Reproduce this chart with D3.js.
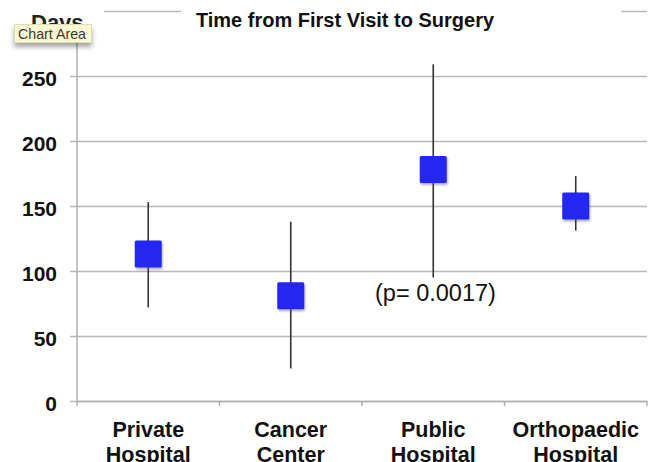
<!DOCTYPE html>
<html>
<head>
<meta charset="utf-8">
<script src="https://cdn.jsdelivr.net/npm/d3@7"></script>
<style>
  html, body { margin: 0; padding: 0; background: #fff; }
  svg { display: block; }
</style>
</head>
<body>
<svg id="chart" width="651" height="462"></svg>
<script>
// Time from first visit to surgery (days), by hospital type
const categories = ["Private Hospital", "Cancer Center", "Public Hospital", "Orthopaedic Hospital"];
const medianDays = [113, 81, 178, 150];
const lowDays = [72, 25, 95, 131];
const highDays = [153, 138, 259, 173];
const yTicks = [0, 50, 100, 150, 200, 250, 300];
const yTickLabels = ["0", "50", "100", "150", "200", "250"];
const chartTitle = "Time from First Visit to Surgery";
const axisTitle = "Days";
const pValueNote = "(p= 0.0017)";

const W = 651, H = 462;
const plot = { left: 77, right: 647, top: 11, bottom: 401 };
const FONT = "'Liberation Sans', Arial, Helvetica, sans-serif";

const svg = d3.select("#chart");

const x = d3.scaleBand().domain(categories).range([plot.left, plot.right]).padding(0);
const y = d3.scaleLinear().domain([0, 300]).range([plot.bottom, plot.top]);

const defs = svg.append("defs");
const shadow = defs.append("filter").attr("id", "markShadow")
  .attr("x", "-30%").attr("y", "-30%").attr("width", "160%").attr("height", "160%");
shadow.append("feDropShadow").attr("dx", 1).attr("dy", 2).attr("stdDeviation", 1.3)
  .attr("flood-color", "#555").attr("flood-opacity", 0.45);

const tipShadow = defs.append("filter").attr("id", "tipShadow")
  .attr("x", "-20%").attr("y", "-40%").attr("width", "140%").attr("height", "200%");
tipShadow.append("feDropShadow").attr("dx", 0).attr("dy", 4).attr("stdDeviation", 2.5)
  .attr("flood-color", "#000").attr("flood-opacity", 0.35);

// Horizontal gridlines (with short tick stubs left of the axis)
svg.append("g").selectAll("line").data(yTicks).join("line")
  .attr("x1", plot.left - 7).attr("x2", plot.right)
  .attr("y1", d => Math.round(y(d)) + 0.5).attr("y2", d => Math.round(y(d)) + 0.5)
  .attr("stroke", "#b9b9b9").attr("stroke-width", 1.5);

// Y axis line
svg.append("line")
  .attr("x1", plot.left).attr("x2", plot.left)
  .attr("y1", plot.top).attr("y2", plot.bottom + 1)
  .attr("stroke", "#b0b0b0").attr("stroke-width", 1.5);

// X axis with ticks at category boundaries
const xAxis = d3.axisBottom(x).tickSize(0).tickFormat("");
const gx = svg.append("g").attr("transform", `translate(0,${plot.bottom})`).call(xAxis);
gx.select(".domain").attr("stroke", "#b0b0b0").attr("stroke-width", 1.5);
const bounds = categories.map(c => x(c)).concat([x(categories[categories.length - 1]) + x.bandwidth()]);
svg.append("g").selectAll("line").data(bounds).join("line")
  .attr("x1", d => d).attr("x2", d => d)
  .attr("y1", plot.bottom).attr("y2", plot.bottom + 5)
  .attr("stroke", "#b0b0b0").attr("stroke-width", 1.5);

// Y tick labels
svg.append("g").selectAll("text").data(yTickLabels).join("text")
  .attr("x", 57).attr("y", d => y(+d) + 10)
  .attr("text-anchor", "end")
  .attr("font-family", FONT).attr("font-weight", "bold").attr("font-size", 21)
  .attr("fill", "#111").text(d => d);

// Category labels (two lines)
const xl = svg.append("g").selectAll("text").data(categories).join("text")
  .attr("text-anchor", "middle")
  .attr("font-family", FONT).attr("font-weight", "bold").attr("font-size", 21.5)
  .attr("fill", "#111");
xl.each(function (d) {
  const parts = d.split(" ");
  const cx = x(d) + x.bandwidth() / 2;
  const t = d3.select(this);
  t.append("tspan").attr("x", cx).attr("y", 437).text(parts[0]);
  t.append("tspan").attr("x", cx).attr("y", 462).text(parts.slice(1).join(" "));
});

// Error bars (range)
const rows = categories.map((c, i) => ({ c, mid: medianDays[i], lo: lowDays[i], hi: highDays[i] }));
svg.append("g").selectAll("line").data(rows).join("line")
  .attr("x1", d => x(d.c) + x.bandwidth() / 2).attr("x2", d => x(d.c) + x.bandwidth() / 2)
  .attr("y1", d => y(d.hi)).attr("y2", d => y(d.lo))
  .attr("stroke", "#333").attr("stroke-width", 1.6);

// Median markers
const S = 27;
svg.append("g").selectAll("rect").data(rows).join("rect")
  .attr("x", d => x(d.c) + x.bandwidth() / 2 - S / 2)
  .attr("y", d => y(d.mid) - S / 2)
  .attr("width", S).attr("height", S).attr("rx", 1.5)
  .attr("fill", "#2525f2")
  .attr("filter", "url(#markShadow)");

// p-value annotation below the public hospital range
svg.append("text")
  .attr("x", 375).attr("y", 301)
  .attr("font-family", FONT).attr("font-size", 23.5)
  .attr("fill", "#111").text(pValueNote);

// Title box covering the top gridline
svg.append("rect").attr("x", 181).attr("y", 0).attr("width", 440).attr("height", 34).attr("fill", "#fff");
svg.append("text")
  .attr("x", 345).attr("y", 27)
  .attr("text-anchor", "middle")
  .attr("font-family", FONT).attr("font-weight", "bold").attr("font-size", 20)
  .attr("fill", "#111").text(chartTitle);

// Axis title box
svg.append("rect").attr("x", 0).attr("y", 0).attr("width", 104).attr("height", 28).attr("fill", "#fff");
svg.append("text")
  .attr("x", 31).attr("y", 30)
  .attr("font-family", FONT).attr("font-weight", "bold").attr("font-size", 22)
  .attr("fill", "#222").text(axisTitle);

// "Chart Area" hover label
const tip = svg.append("g");
tip.append("rect")
  .attr("x", 14.5).attr("y", 24.5).attr("width", 77).attr("height", 18)
  .attr("fill", "#fbf9d2").attr("stroke", "#dedcb0").attr("stroke-width", 1)
  .attr("filter", "url(#tipShadow)");
tip.append("text")
  .attr("x", 18).attr("y", 38.5)
  .attr("textLength", 68).attr("lengthAdjust", "spacingAndGlyphs")
  .attr("font-family", FONT)
  .attr("font-size", 15).attr("fill", "#3a3a30").text("Chart Area");
</script>
</body>
</html>
